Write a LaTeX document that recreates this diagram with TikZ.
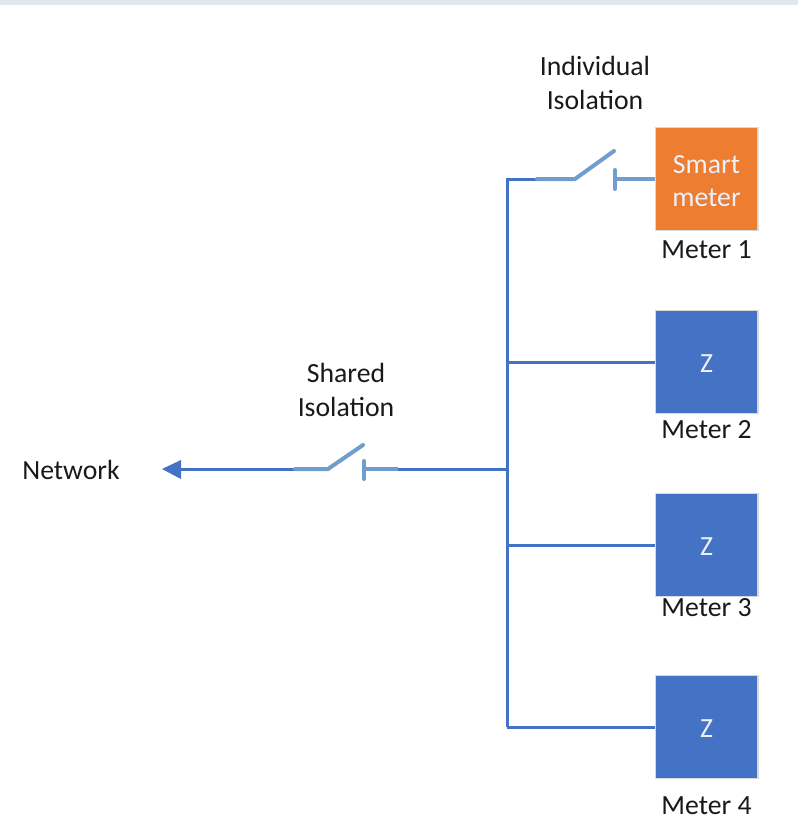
\documentclass[tikz,border=0pt]{standalone}
\usepackage{fontspec}
\setmainfont{Carlito}
\definecolor{wireblue}{RGB}{68,114,196}
\definecolor{switchblue}{RGB}{112,157,205}
\definecolor{meterorange}{RGB}{237,125,49}
\definecolor{topgrey}{RGB}{225,231,234}
\newcommand{\dropline}[1]{\raisebox{-1.5pt}[\height][\depth]{#1}}
\tikzset{
	meterbox/.style={draw=black!15,line width=1pt,fill=wireblue,text=white!90!wireblue,minimum width=77pt,minimum height=77pt,inner sep=0pt,align=center,font=\fontsize{20.8}{24.5}\selectfont},
	smartbox/.style={meterbox,fill=meterorange},
	lbl/.style={inner sep=0pt,align=center,text=black!90,font=\fontsize{20.8}{24.8}\selectfont},
	wire/.style={draw=wireblue,line width=2.25pt},
	switchwire/.style={draw=switchblue,line width=3pt,line cap=round},
}
\begin{document}
\begin{tikzpicture}[x=0.75pt,y=0.75pt,yscale=-1]
	\useasboundingbox (0,0) rectangle (798,832);
	%Shape: top bar
	\fill[topgrey] (0,0) rectangle (798,5);
	%Meters
	\node[smartbox] (meter1) at (706.5,179) {\dropline{Smart}\\\dropline{meter}};
	\node[meterbox] (meter2) at (706.5,362) {\dropline{Z}};
	\node[meterbox] (meter3) at (706.5,545) {\dropline{Z}};
	\node[meterbox] (meter4) at (706.5,727) {\dropline{Z}};
	\node[lbl] (lab1) at (706.5,250) {Meter 1};
	\node[lbl] (lab2) at (706.5,430) {Meter 2};
	\node[lbl] (lab3) at (706.5,608) {Meter 3};
	\node[lbl] (lab4) at (706.5,806) {Meter 4};
	\node[lbl] (network) at (71,470) {Network};
	\node[lbl] (shared) at (346,390) {Shared\\Isolation};
	\node[lbl] (individual) at (595,83) {Individual\\Isolation};
	%Bus
	\coordinate (bustop) at (507,179);
	\coordinate (busmid) at (507,469);
	\coordinate (busbot) at (507,727);
	\coordinate (sw1a) at (575,179);
	\coordinate (sw1b) at (614,151);
	\coordinate (sw1c) at (615,179);
	\coordinate (sw2a) at (328,469);
	\coordinate (sw2b) at (363,445);
	\coordinate (sw2c) at (364,469);
	\coordinate (tip) at (162,469);
	\draw[wire] (busbot) -- (bustop) -- (537,179);
	\draw[wire] (busbot) -- (meter4.west);
	\draw[wire] (507,545) -- (meter3.west);
	\draw[wire] (507,362) -- (meter2.west);
	\draw[wire] (busmid) -- (398,469);
	\draw[wire] (295,469) -- (180,469);
	\fill[wireblue] (tip) -- (181,460) -- (181,479) -- cycle;
	%Switches
	\draw[switchwire] (537,179) -- (sw1a) -- (sw1b);
	\draw[switchwire,line cap=butt] (meter1.west) -- (sw1c);
	\draw[switchwire] (615,170) -- (615,189);
	\draw[switchwire] (295,469) -- (sw2a) -- (sw2b);
	\draw[switchwire,line cap=butt] (398,469) -- (sw2c);
	\draw[switchwire] (364,461) -- (364,479);
\end{tikzpicture}
\end{document}
